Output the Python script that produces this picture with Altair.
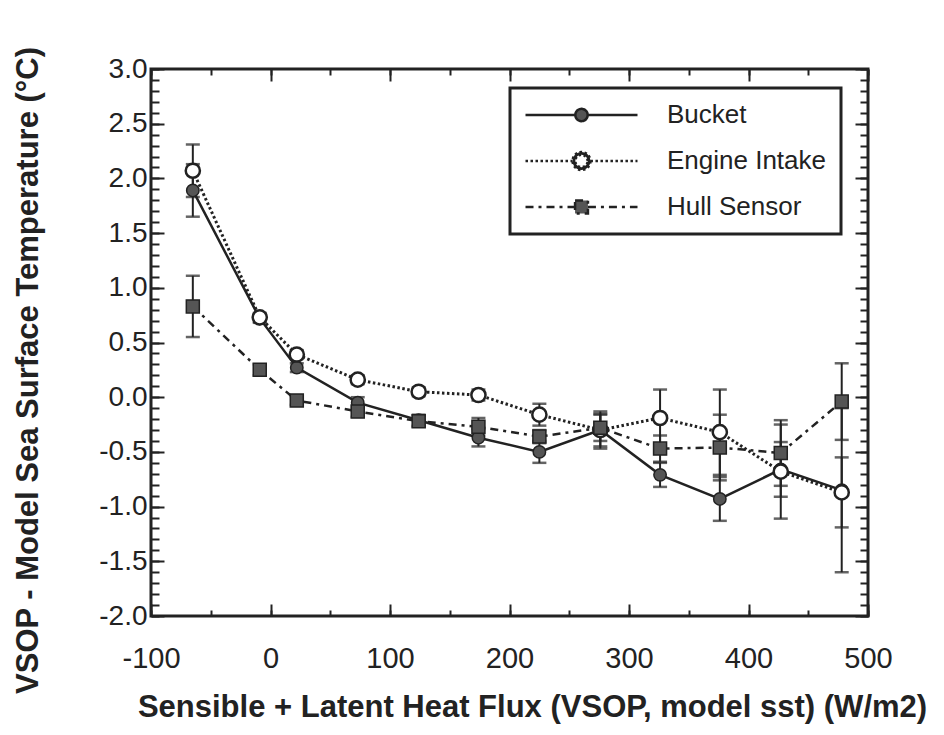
import altair as alt
import pandas as pd

# Mean (VSOP - model) SST difference per heat-flux bin, with error bars
series_names = ["Bucket", "Engine Intake", "Hull Sensor"]
flux = [-65, -9, 22, 73, 124, 174, 225, 276, 326, 376, 427, 478]

bucket = [1.89, 0.72, 0.27, -0.05, -0.21, -0.37, -0.50, -0.30, -0.71, -0.93, -0.66, -0.85]
bucket_err = [0.24, 0.04, 0.04, 0.05, 0.05, 0.08, 0.10, 0.17, 0.11, 0.20, 0.25, 0.75]

engine = [2.07, 0.73, 0.39, 0.16, 0.05, 0.02, -0.16, -0.30, -0.19, -0.32, -0.68, -0.87]
engine_err = [0.24, 0.04, 0.04, 0.04, 0.04, 0.05, 0.10, 0.15, 0.26, 0.39, 0.43, 0.32]

hull = [0.83, 0.25, -0.03, -0.13, -0.22, -0.27, -0.36, -0.28, -0.47, -0.46, -0.51, -0.04]
hull_err = [0.28, 0.05, 0.04, 0.05, 0.05, 0.08, 0.06, 0.12, 0.12, 0.30, 0.30, 0.35]

rows = []
for name, vals, errs in zip(series_names, [bucket, engine, hull], [bucket_err, engine_err, hull_err]):
    for f, v, e in zip(flux, vals, errs):
        rows.append({"series": name, "flux": f, "value": v, "err": e})
df = pd.DataFrame(rows)

INK = "#222222"
FONT = "Liberation Sans"
MINUS_FIX = "replace(datum.label, '\u2212', '-')"

xs = alt.Scale(domain=[-100, 500], nice=False, zero=False)
ys = alt.Scale(domain=[-2.0, 3.0], nice=False, zero=False)


def tick_axis(orient, length, count):
    """Inward-pointing ticks: an axis pulled inside the frame by its tick length."""
    return alt.Axis(orient=orient, offset=-length, tickSize=length, tickCount=count,
                    tickColor=INK, tickWidth=2, labels=False, domain=False,
                    grid=False, title=None)


x_main = alt.Axis(
    orient="bottom", title="Sensible + Latent Heat Flux (VSOP, model sst) (W/m2)",
    tickCount=6, ticks=False, domain=False, grid=False, labelOverlap=False,
    labelFont=FONT, labelFontSize=29, labelColor=INK, labelPadding=28,
    labelFlush=False, labelExpr=MINUS_FIX,
    titleFont=FONT, titleFontSize=31, titleFontWeight="bold", titleColor=INK,
    titleX=381, titleY=100, titleBaseline="alphabetic", titleAlign="center")

y_main = alt.Axis(
    orient="left", title="VSOP - Model Sea Surface Temperature (°C)",
    tickCount=10, format=".1f", ticks=False, domain=False, grid=False,
    labelOverlap=False, labelFont=FONT, labelFontSize=28, labelColor=INK,
    labelPadding=4, labelExpr=MINUS_FIX,
    titleFont=FONT, titleFontSize=31, titleFontWeight="bold", titleColor=INK,
    titleX=-114, titleY=301, titleAngle=270, titleBaseline="alphabetic",
    titleAlign="center")


def enc(x_axis=None, y_axis=None, yfield="value"):
    return dict(x=alt.X("flux:Q", scale=xs, axis=x_axis),
                y=alt.Y(f"{yfield}:Q", scale=ys, axis=y_axis))


base = alt.Chart(df)


def series(name):
    return base.transform_filter(alt.datum.series == name)


# connecting lines
line_bucket = series("Bucket").mark_line(color=INK, strokeWidth=2.5).encode(
    **enc(x_main, y_main))
line_engine = series("Engine Intake").mark_line(
    color=INK, strokeWidth=3, strokeDash=[2.5, 2.5]).encode(
    **enc(tick_axis("bottom", 12, 6), tick_axis("left", 13, 10)))
line_hull = series("Hull Sensor").mark_line(
    color=INK, strokeWidth=2.5, strokeDash=[8, 5, 3, 5]).encode(
    **enc(tick_axis("bottom", 6, 12), tick_axis("left", 8, 50)))

# error bars with caps
err_base = base.transform_calculate(lo="datum.value - datum.err",
                                    hi="datum.value + datum.err")
err_rule = err_base.mark_rule(color=INK, strokeWidth=2).encode(
    **enc(tick_axis("top", 12, 6), tick_axis("right", 13, 10), yfield="lo"),
    y2="hi:Q")
cap_lo = err_base.mark_tick(orient="horizontal", size=14, thickness=2.5, color=INK).encode(
    **enc(tick_axis("top", 6, 12), tick_axis("right", 8, 50), yfield="lo"))
cap_hi = err_base.mark_tick(orient="horizontal", size=14, thickness=2.5, color=INK).encode(
    **enc(yfield="hi"))

# markers
pts_bucket = series("Bucket").mark_point(
    shape="circle", filled=True, size=154, fill="#555555", stroke=INK,
    strokeWidth=1.5, opacity=1).encode(**enc())
pts_engine = series("Engine Intake").mark_point(
    shape="circle", filled=True, size=201, fill="white", stroke=INK,
    strokeWidth=2.5, opacity=1).encode(**enc())
pts_hull = series("Hull Sensor").mark_point(
    shape="square", filled=True, size=169, fill="#555555", stroke=INK,
    strokeWidth=1.5, opacity=1).encode(**enc())

# legend symbols: line sample with the marker in its middle
legend_paths = [
    "M-1,0H-0.11M0.11,0H1M0.11,0A0.11,0.11,0,1,1,-0.11,0A0.11,0.11,0,1,1,0.11,0Z",
    "M-1,0H-0.16M0.16,0H1M0.16,0A0.16,0.16,0,1,1,-0.16,0A0.16,0.16,0,1,1,0.16,0Z"
    "M0.11,0A0.11,0.11,0,1,0,-0.11,0A0.11,0.11,0,1,0,0.11,0Z",
    "M-1,0H-0.115M0.115,0H1M-0.115,-0.115H0.115V0.115H-0.115Z",
]
legend_fills = ["#555555", INK, "#555555"]
legend_strokes = [INK, INK, INK]
legend_dashes = [[1, 0], [2.5, 2.5], [8, 5, 3, 5]]

leg = alt.Legend(title=None, orient="none", legendX=359, legendY=19,
                 padding=14, clipHeight=26, rowPadding=20, labelOffset=28,
                 symbolSize=12544, symbolStrokeWidth=2.5, symbolStrokeColor=INK,
                 labelFont=FONT, labelFontSize=26, labelColor=INK,
                 strokeColor=INK, fillColor="white", labelLimit=400)

legend_layer = base.transform_filter("false").mark_point(
    filled=True, strokeWidth=2.5, opacity=1).encode(
    **enc(),
    shape=alt.Shape("series:N", scale=alt.Scale(domain=series_names, range=legend_paths), legend=leg),
    fill=alt.Fill("series:N", scale=alt.Scale(domain=series_names, range=legend_fills), legend=leg),
    stroke=alt.Stroke("series:N", scale=alt.Scale(domain=series_names, range=legend_strokes), legend=leg),
    strokeDash=alt.StrokeDash("series:N", scale=alt.Scale(domain=series_names, range=legend_dashes), legend=leg),
)

chart = alt.layer(
    line_bucket, line_engine, line_hull,
    err_rule, cap_lo, cap_hi,
    pts_bucket, pts_engine, pts_hull,
    legend_layer,
).resolve_axis(
    x="independent", y="independent"
).properties(
    width=717, height=547,
    padding={"left": 151, "top": 69, "right": 76, "bottom": 119},
    autosize=alt.AutoSizeParams(type="none"),
    background="white",
).configure_view(
    stroke=INK, strokeWidth=3
).configure_legend(
    strokeWidth=3
)

chart.save("out.html", embed_options={"renderer": "svg", "actions": False})
